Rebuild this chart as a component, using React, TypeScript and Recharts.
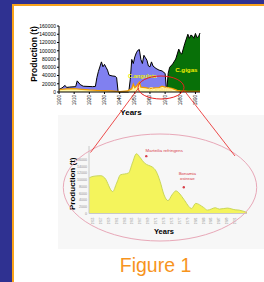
import React from "react";
import { AreaChart, Area, XAxis, YAxis, ReferenceDot } from "recharts";

// top chart: oyster production in France (t)
const angulataYears = [1900, 1902, 1904, 1905, 1907, 1911, 1912, 1914, 1916, 1922, 1924, 1925, 1926, 1928, 1929, 1930, 1931, 1932, 1933, 1935, 1937, 1938, 1939, 1946, 1947, 1948, 1949, 1950, 1951, 1952, 1953, 1954, 1955, 1956, 1957, 1958, 1959, 1960, 1961, 1962, 1964, 1966, 1968, 1970, 1971];
const angulataValues = [6000, 10000, 16000, 11000, 12000, 13000, 27000, 18000, 14000, 13000, 13500, 35000, 50000, 73000, 61000, 67000, 60000, 53000, 41000, 39000, 38000, 35000, 0, 0, 30000, 79000, 69000, 85000, 95000, 101000, 103000, 79000, 69000, 89000, 83000, 77000, 63000, 61000, 73000, 63000, 57000, 53000, 51000, 45000, 0];

const gigasYears = [1971, 1972, 1973, 1975, 1977, 1979, 1980, 1981, 1983, 1985, 1986, 1987, 1988, 1989, 1990, 1991, 1992, 1993];
const gigasValues = [0, 45000, 60000, 68000, 80000, 104000, 95000, 92000, 118000, 140000, 130000, 138000, 136000, 130000, 142000, 132000, 134000, 143000];

const edulisYears = [1900, 1905, 1910, 1915, 1920, 1925, 1930, 1935, 1940, 1945, 1948, 1949, 1950, 1951, 1953, 1954, 1957, 1960, 1963, 1966, 1968, 1970, 1972, 1975, 1978, 1980, 1985, 1993];
const edulisValues = [6000, 7500, 8000, 6500, 5000, 4000, 3500, 2400, 800, 2400, 8000, 19000, 10500, 14000, 24000, 12000, 10500, 8000, 10000, 10500, 14000, 12000, 10500, 8000, 4000, 2400, 1600, 1600];

const topTicks = [1900, 1910, 1920, 1930, 1940, 1950, 1960, 1970, 1980, 1990];
const topValueTicks = [0, 20000, 40000, 60000, 80000, 100000, 120000, 140000, 160000];

// zoomed chart: flat oyster (O. edulis)
const innerYears = [1954, 1955, 1957, 1958, 1960, 1961, 1962, 1963, 1964, 1965, 1966, 1967, 1968, 1969, 1970, 1971, 1972, 1973, 1974, 1975, 1976, 1977, 1978, 1980, 1981, 1983, 1984, 1986, 1987, 1989, 1991, 1992, 1994];
const innerValues = [10500, 11000, 11200, 10500, 6500, 9000, 11500, 11700, 12000, 15000, 17700, 16500, 15000, 14300, 13800, 12500, 9500, 5500, 3800, 5500, 6700, 5800, 4200, 1500, 3000, 1800, 1000, 1700, 1300, 1600, 1100, 1000, 300];
const innerTicks = [1955, 1957, 1959, 1961, 1963, 1965, 1967, 1969, 1971, 1973, 1975, 1977, 1979, 1981, 1983, 1985, 1987, 1989, 1991];
const innerValueTicks = [0, 2000, 4000, 6000, 8000, 10000, 12000, 14000, 16000];

const allYears = Array.from(new Set([...angulataYears, ...gigasYears, ...edulisYears])).sort((a, b) => a - b);
const topRows = allYears.map((year) => {
  const ai = angulataYears.indexOf(year);
  const gi = gigasYears.indexOf(year);
  const ei = edulisYears.indexOf(year);
  return {
    year,
    angulata: ai >= 0 ? angulataValues[ai] : null,
    gigas: gi >= 0 ? gigasValues[gi] : null,
    edulis: ei >= 0 ? edulisValues[ei] : null,
  };
});
const innerRows = innerYears.map((year, i) => ({ year, edulis: innerValues[i] }));

function RotTick(props: any) {
  const { x, y, payload, fontSize, fill } = props;
  return (
    <g transform={`translate(${x},${y})`}>
      <text transform="rotate(-90)" textAnchor="end" dominantBaseline="central" fontSize={fontSize} fill={fill}>
        {payload.value}
      </text>
    </g>
  );
}

function VTitle(props: any) {
  const { viewBox, text, dx, dy, size } = props;
  if (!viewBox) return null;
  const cx = viewBox.x + dx;
  const cy = viewBox.y + viewBox.height / 2 + dy;
  return (
    <text x={cx} y={cy} transform={`rotate(-90 ${cx} ${cy})`} textAnchor="middle" dominantBaseline="central" fontSize={size} fontWeight="bold" fill="#000">
      {text}
    </text>
  );
}

function HTitle(props: any) {
  const { viewBox, text, dx, dy, size } = props;
  if (!viewBox) return null;
  return (
    <text x={viewBox.x + viewBox.width / 2 + dx} y={viewBox.y + dy} textAnchor="middle" dominantBaseline="central" fontSize={size} fontWeight="bold" fill="#000">
      {text}
    </text>
  );
}

function Note(props: any) {
  const { viewBox, lines, dx, dy } = props;
  if (!viewBox) return null;
  const cx = viewBox.x + viewBox.width / 2 + dx;
  const cy = viewBox.y + viewBox.height / 2 + dy;
  return (
    <text x={cx} y={cy} textAnchor="middle" fontSize={4.4} fill="#d8404a">
      {lines.map((l: string, i: number) => (
        <tspan key={l} x={cx} dy={i === 0 ? 0 : 5.6}>{l}</tspan>
      ))}
    </text>
  );
}

export default function App() {
  return (
    <div style={{ position: "absolute", left: 0, top: 0, width: 264, height: 282, background: "#2f3191", overflow: "hidden", fontFamily: '"Liberation Sans", Arial, sans-serif' }}>
      <div style={{ position: "absolute", left: 12, top: 4, right: 0, bottom: 0, background: "#fff", borderLeft: "2px solid #f7a21b", borderTop: "2px solid #f7a21b" }} />
      <div style={{ position: "absolute", left: 58, top: 115, width: 206, height: 134, background: "#f7f7f7" }} />

      <div style={{ position: "absolute", left: 0, top: 0 }}>
        <AreaChart width={264} height={120} data={topRows} margin={{ top: 26, right: 64, bottom: 0, left: 25 }}>
          <XAxis xAxisId="b" dataKey="year" type="number" domain={[1900, 1993]} ticks={topTicks} interval={0} height={28}
            axisLine={{ stroke: "#000" }} tickLine={{ stroke: "#000" }} tickSize={2} tickMargin={1}
            tick={<RotTick fontSize={4.6} fill="#000" />}
            label={<HTitle text="Years" dx={1.5} dy={20} size={8} />} />
          <XAxis xAxisId="t" orientation="top" dataKey="year" type="number" domain={[1900, 1993]} height={0} tick={false} tickLine={false} axisLine={{ stroke: "#888" }} />
          <YAxis yAxisId="l" domain={[0, 160000]} ticks={topValueTicks} interval={0} width={34} tickSize={2} tickMargin={1}
            axisLine={{ stroke: "#000" }} tickLine={{ stroke: "#000" }} tick={{ fontSize: 5, fill: "#000" }}
            label={<VTitle text="Production (t)" dx={9} dy={-5} size={8.5} />} />
          <YAxis yAxisId="r" orientation="right" domain={[0, 160000]} width={0} tick={false} tickLine={false} axisLine={{ stroke: "#888" }} />
          <Area xAxisId="b" yAxisId="l" dataKey="angulata" type="linear" stroke="#000" strokeWidth={1} fill="#8080f0" fillOpacity={1} connectNulls dot={false} activeDot={false} isAnimationActive={false} />
          <Area xAxisId="b" yAxisId="l" dataKey="gigas" type="linear" stroke="#000" strokeWidth={1} fill="#087008" fillOpacity={1} connectNulls dot={false} activeDot={false} isAnimationActive={false} />
          <Area xAxisId="b" yAxisId="l" dataKey="edulis" type="linear" stroke="#f29b00" strokeWidth={1.3} fill="#fff7a8" fillOpacity={1} connectNulls dot={false} activeDot={false} isAnimationActive={false} />
          <ReferenceDot xAxisId="b" yAxisId="l" x={1955} y={39000} r={0} fill="none" stroke="none"
            label={{ value: "C.angulata", position: "center", fill: "#eeee00", fontSize: 5.6, fontWeight: "bold" }} />
          <ReferenceDot xAxisId="b" yAxisId="l" x={1984} y={53000} r={0} fill="none" stroke="none"
            label={{ value: "C.gigas", position: "center", fill: "#eeee00", fontSize: 6.2, fontWeight: "bold" }} />
          <ReferenceDot xAxisId="b" yAxisId="l" x={1967} y={7000} r={0} fill="none" stroke="none"
            label={{ value: "O.edulis", position: "center", fill: "#ffe07a", fontSize: 6, fontWeight: "bold" }} />
        </AreaChart>
      </div>

      <div style={{ position: "absolute", left: 0, top: 130 }}>
        <AreaChart width={264} height={110} data={innerRows} margin={{ top: 16, right: 17, bottom: 0, left: 60 }}>
          <XAxis xAxisId="b" dataKey="year" type="number" domain={[1954, 1994]} ticks={innerTicks} interval={0} height={26.5}
            axisLine={{ stroke: "#c8c8c8" }} tickLine={false} tickSize={0} tickMargin={4}
            tick={<RotTick fontSize={3} fill="#8a8a8a" />}
            label={<HTitle text="Years" dx={-4} dy={18} size={7.5} />} />
          <XAxis xAxisId="t" orientation="top" dataKey="year" type="number" domain={[1954, 1994]} height={0} tick={false} tickLine={false} axisLine={{ stroke: "#b0b0b0" }} />
          <YAxis yAxisId="l" domain={[0, 20000]} ticks={innerValueTicks} interval={0} width={29} tickSize={0} tickMargin={2}
            axisLine={{ stroke: "#c8c8c8" }} tickLine={false} tick={{ fontSize: 3.6, fill: "#909090" }}
            label={<VTitle text="Production (t)" dx={12.5} dy={4} size={8} />} />
          <YAxis yAxisId="r" orientation="right" domain={[0, 20000]} width={0} tick={false} tickLine={false} axisLine={{ stroke: "#b0b0b0" }} />
          <Area xAxisId="b" yAxisId="l" dataKey="edulis" type="monotone" stroke="#c9d65a" strokeWidth={1} fill="#f4f45c" fillOpacity={1} dot={false} activeDot={false} isAnimationActive={false} />
          <ReferenceDot xAxisId="b" yAxisId="l" x={1968.5} y={17000} r={1.2} fill="#d8404a" stroke="none"
            label={<Note lines={["Marteilia refringens"]} dx={18} dy={-4.5} />} />
          <ReferenceDot xAxisId="b" yAxisId="l" x={1978} y={7800} r={1.2} fill="#d8404a" stroke="none"
            label={<Note lines={["Bonamia", "ostreae"]} dx={3.5} dy={-12.5} />} />
        </AreaChart>
      </div>

      <svg width={264} height={282} style={{ position: "absolute", left: 0, top: 0, pointerEvents: "none" }}>
        <ellipse cx={160} cy={187.5} rx={96.7} ry={53.5} fill="none" stroke="#e8a8b8" strokeWidth={1} />
        <ellipse cx={161} cy={87.5} rx={23} ry={11.5} fill="none" stroke="#e82020" strokeWidth={1} />
        <line x1={138.5} y1={88} x2={90.5} y2={152.5} stroke="#e82020" strokeWidth={0.8} />
        <line x1={184.3} y1={90.7} x2={235} y2={156} stroke="#e82020" strokeWidth={0.8} />
        <text x={155.5} y={271.5} textAnchor="middle" fontSize={19.5} fill="#f7941d">Figure 1</text>
      </svg>
    </div>
  );
}
